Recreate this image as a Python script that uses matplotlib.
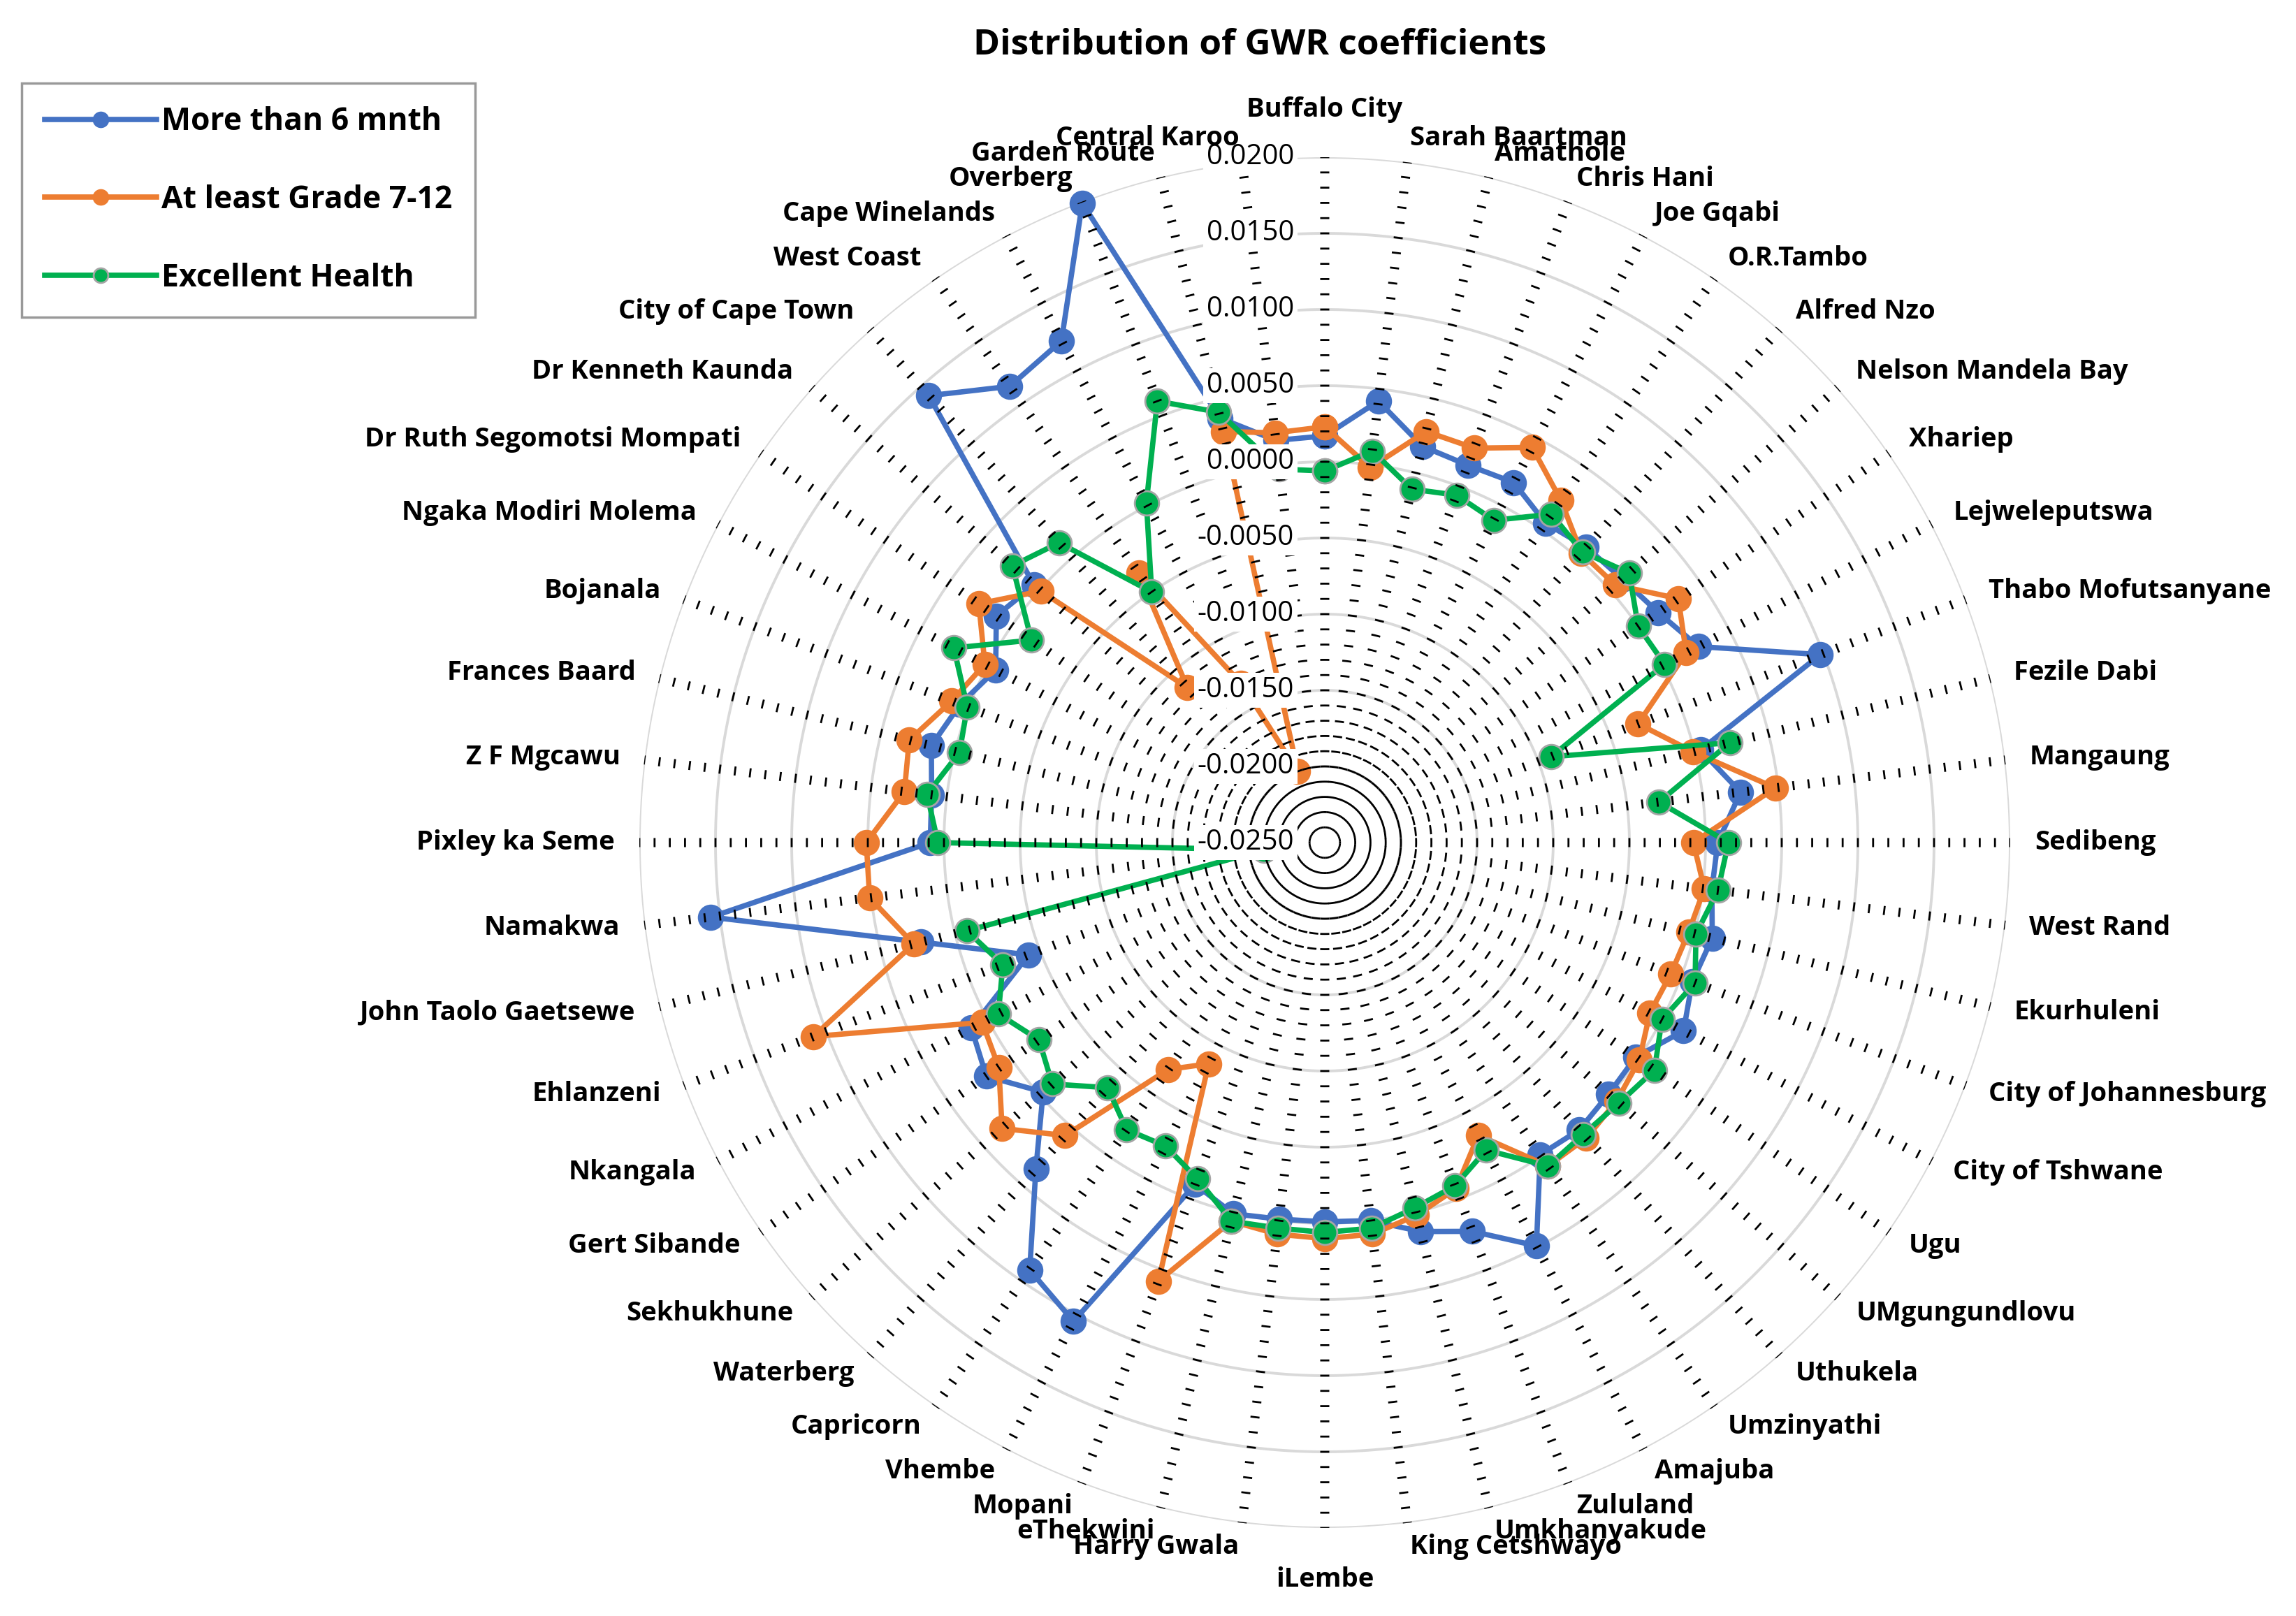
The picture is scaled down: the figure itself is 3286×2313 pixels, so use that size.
import numpy as np
import matplotlib.pyplot as plt
from matplotlib.collections import LineCollection
from matplotlib.lines import Line2D
from matplotlib.transforms import offset_copy

# districts, clockwise from the top
districts = [
    "Buffalo City", "Sarah Baartman", "Amathole", "Chris Hani", "Joe Gqabi",
    "O.R.Tambo", "Alfred Nzo", "Nelson Mandela Bay", "Xhariep", "Lejweleputswa",
    "Thabo Mofutsanyane", "Fezile Dabi", "Mangaung", "Sedibeng", "West Rand",
    "Ekurhuleni", "City of Johannesburg", "City of Tshwane", "Ugu", "UMgungundlovu",
    "Uthukela", "Umzinyathi", "Amajuba", "Zululand", "Umkhanyakude",
    "King Cetshwayo", "iLembe", "Harry Gwala", "eThekwini", "Mopani",
    "Vhembe", "Capricorn", "Waterberg", "Sekhukhune", "Gert Sibande",
    "Nkangala", "Ehlanzeni", "John Taolo Gaetsewe", "Namakwa", "Pixley ka Seme",
    "Z F Mgcawu", "Frances Baard", "Bojanala", "Ngaka Modiri Molema",
    "Dr Ruth Segomotsi Mompati", "Dr Kenneth Kaunda", "City of Cape Town",
    "West Coast", "Cape Winelands", "Overberg", "Garden Route", "Central Karoo",
]

more_than_6_mnth = [
    0.0017, 0.0042, 0.0018, 0.0015, 0.0017, 0.0005, 0.0009, 0.0011, 0.0016, 0.0027,
    0.0098, 0.0004, 0.0025, 0.0008, 0.0006, 0.0012, 0.0008, 0.0016, -0.0002, -0.0001,
    0.0002, -0.0001, 0.0049, 0.0023, 0.0013, 0.0000, -0.0001, -0.0001, 0.0001, -0.0010,
    0.0105, 0.0091, 0.0036, -0.0003, 0.0020, 0.0012, -0.0042, 0.0023, 0.0156, 0.0009,
    0.0010, 0.0016, 0.0006, -0.0006, 0.0012, 0.0005, 0.0142, 0.0114, 0.0122, 0.0199,
    0.0037, 0.0016,
]

grade_7_12 = [
    0.0023, -0.0002, 0.0028, 0.0027, 0.0043, 0.0023, 0.0004, 0.0005, 0.0032, 0.0018,
    -0.0030, -0.0001, 0.0048, -0.0008, 0.0001, -0.0004, -0.0007, -0.0009, 0.0001, 0.0006,
    0.0009, 0.0008, -0.0033, -0.0007, 0.0002, 0.0009, 0.0010, 0.0009, 0.0006, 0.0058,
    -0.0086, -0.0069, 0.0007, 0.0033, 0.0010, 0.0004, 0.0109, 0.0028, 0.0051, 0.0051,
    0.0028, 0.0031, 0.0012, 0.0002, 0.0026, -0.0001, -0.0114, -0.0035, -0.0132, -0.0200,
    0.0028, 0.0021,
]

excellent_health = [
    -0.0006, 0.0009, -0.0011, -0.0006, -0.0011, 0.0012, 0.0005, 0.0017, 0.0000, 0.0002,
    -0.0091, 0.0024, -0.0029, 0.0015, 0.0010, 0.0001, 0.0010, 0.0000, 0.0013, 0.0008,
    0.0006, 0.0008, -0.0022, -0.0009, -0.0003, 0.0005, 0.0006, 0.0005, 0.0006, -0.0014,
    -0.0025, -0.0021, -0.0035, -0.0011, -0.0022, -0.0008, -0.0024, -0.0008, -0.0210, 0.0004,
    0.0013, -0.0003, 0.0001, 0.0025, -0.0016, 0.0024, 0.0013, -0.0050, 0.0002, 0.0060,
    0.0041, -0.0003,
]

r_ticks = [0.02, 0.015, 0.01, 0.005, 0.0, -0.005, -0.01, -0.015, -0.02, -0.025]
r_tick_labels = ["0.0200", "0.0150", "0.0100", "0.0050", "0.0000",
                 "-0.0050", "-0.0100", "-0.0150", "-0.0200", "-0.0250"]

plt.rcParams['font.family'] = ['Open Sans', 'DejaVu Sans']

fig = plt.figure(figsize=(32.86, 23.13), dpi=100)
ax = fig.add_axes([0.27845, 0.05448, 0.59708, 0.84824], projection='polar')
ax.set_theta_zero_location('N')
ax.set_theta_direction(-1)
rmin, rmax = -0.025, 0.02
ax.set_xticks([])
ax.set_yticks([])
ax.grid(False)
ax.spines['polar'].set_visible(False)

n = len(districts)
theta = np.arange(n) * 2 * np.pi / n

# light grey major gridlines
circle = np.linspace(0, 2 * np.pi, 500)
for r in np.arange(-0.02, 0.02001, 0.005):
    ax.plot(circle, np.full_like(circle, r), color='#D9D9D9', lw=2.8, zorder=1)

# series
series = [
    (more_than_6_mnth, "More than 6 mnth", '#4472C4', '#4472C4'),
    (grade_7_12, "At least Grade 7-12", '#ED7D31', '#ED7D31'),
    (excellent_health, "Excellent Health", '#00B050', '#A5A5A5'),
]
for k, (vals, name, col, edge) in enumerate(series):
    t = np.append(theta, theta[0])
    v = np.append(vals, vals[0])
    ax.plot(t, v, color=col, lw=5.5, marker='o', ms=25, mfc=col, mec=edge,
            mew=2, zorder=3 + k, clip_on=False)

# minor tick marks drawn across every spoke (Excel style)
radius_px = 981.0
minor = np.round(np.arange(-0.024, 0.02001, 0.001), 4)
segs = []
for t0 in theta:
    for r in minor:
        rho = (r - rmin) / (rmax - rmin) * radius_px
        d = min(6.5 / rho, np.pi / n * 1.05)
        tt = np.linspace(t0 - d, t0 + d, 5)
        segs.append(np.column_stack([tt, np.full(5, r)]))
lc = LineCollection(segs, colors='black', linewidths=2.0, zorder=8, capstyle='butt')
ax.add_collection(lc, autolim=False)
ax.set_ylim(rmin, rmax)

# value labels along the top spoke
trans = offset_copy(ax.transData, fig=fig, x=-44, y=0, units='dots')
for r, lab in zip(r_ticks, r_tick_labels):
    ax.text(0, r, lab, transform=trans, ha='right', va='center', fontsize=29,
            zorder=9, bbox=dict(boxstyle='square,pad=0.12', fc='white', ec='none'))

# category labels
r_lab = 0.0216
up = offset_copy(ax.transData, fig=fig, x=0, y=14, units='dots')
down = offset_copy(ax.transData, fig=fig, x=0, y=-20, units='dots')
for i, name in enumerate(districts):
    phi = np.deg2rad(90 - 360.0 * i / n)
    c = np.cos(phi)
    if abs(c) < 1e-6:
        ha = 'center'
    elif c > 0:
        ha = 'left'
    else:
        ha = 'right'
    va = 'center'
    tr = ax.transData
    if i == 0:
        va = 'bottom'
        tr = up
    elif i == n // 2:
        va = 'top'
        tr = down
    ax.text(theta[i], r_lab, name, ha=ha, va=va, fontsize=27.5, fontweight='bold',
            zorder=10, transform=tr)

fig.text(0.5488, 0.9718, "Distribution of GWR coefficients", ha='center', va='center',
         fontsize=37, fontweight='bold')

handles = [Line2D([0], [0], color=col, lw=5.5, marker='o', ms=15, mfc=col, mec=edge, mew=2)
           for _, _, col, edge in series]
leg = fig.legend(handles, [s[1] for s in series], loc='upper left',
                 bbox_to_anchor=(0.0094, 0.9486), frameon=True, fancybox=False,
                 edgecolor='#808080', prop=dict(weight='bold', size=32),
                 handlelength=3.6, labelspacing=1.5, borderpad=0.75,
                 handletextpad=0.15, borderaxespad=0)
leg.get_frame().set_linewidth(2.5)

fig.savefig('out.png', dpi=100, facecolor='white')
